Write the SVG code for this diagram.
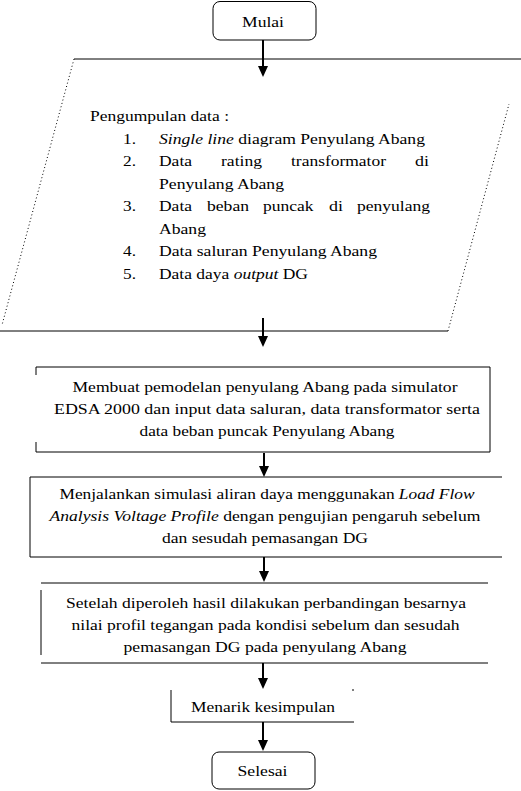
<svg xmlns="http://www.w3.org/2000/svg" width="521" height="791" viewBox="0 0 521 791">
<style>
  .t { font-family: "Liberation Serif", "Times New Roman", serif; font-size: 15.5px; fill: #000; }
  .c { text-anchor: middle; }
  .i { font-style: italic; }
  .ln { fill: none; stroke: #000; stroke-width: 1; }
  .dot { fill: none; stroke: #000; stroke-width: 1; stroke-dasharray: 1 2.5; }
  .ar { fill: none; stroke: #000; stroke-width: 2; marker-end: url(#ah); }
</style>
<defs>
  <marker id="ah" markerUnits="userSpaceOnUse" viewBox="0 0 11 10" markerWidth="11" markerHeight="10" refX="6" refY="5" orient="auto">
    <path d="M0,0 L11,5 L0,10 Z" fill="#000"/>
  </marker>
</defs>
<rect width="521" height="791" fill="#fff"/>

<g id="mulai">
  <rect class="ln" x="213" y="1.5" width="103" height="38.5" rx="7"/>
  <text class="t c" x="263" y="27" textLength="42" lengthAdjust="spacingAndGlyphs">Mulai</text>
</g>

<g id="pengumpulan-data">
  <path class="ln" d="M74,59 H521 M0,331 H448"/>
  <path class="dot" d="M74,59 L2,325 M448,331 L509,104"/>
  <text class="t" x="90" y="121" textLength="139" lengthAdjust="spacingAndGlyphs">Pengumpulan data :</text>
  <text class="t" x="123" y="143.5" textLength="13" lengthAdjust="spacingAndGlyphs">1.</text>
  <text class="t" x="159" y="143.5" textLength="266" lengthAdjust="spacingAndGlyphs"><tspan class="i">Single line</tspan> diagram Penyulang Abang</text>
  <text class="t" x="123" y="166" textLength="13" lengthAdjust="spacingAndGlyphs">2.</text>
  <text class="t" x="159" y="166" textLength="33" lengthAdjust="spacingAndGlyphs">Data</text>
  <text class="t" x="221" y="166" textLength="41" lengthAdjust="spacingAndGlyphs">rating</text>
  <text class="t" x="291" y="166" textLength="95" lengthAdjust="spacingAndGlyphs">transformator</text>
  <text class="t" x="415" y="166" textLength="14" lengthAdjust="spacingAndGlyphs">di</text>
  <text class="t" x="159" y="188.5" textLength="125" lengthAdjust="spacingAndGlyphs">Penyulang Abang</text>
  <text class="t" x="123" y="211" textLength="13" lengthAdjust="spacingAndGlyphs">3.</text>
  <text class="t" x="159" y="211" textLength="33" lengthAdjust="spacingAndGlyphs">Data</text>
  <text class="t" x="207" y="211" textLength="42" lengthAdjust="spacingAndGlyphs">beban</text>
  <text class="t" x="263" y="211" textLength="50.5" lengthAdjust="spacingAndGlyphs">puncak</text>
  <text class="t" x="329" y="211" textLength="14" lengthAdjust="spacingAndGlyphs">di</text>
  <text class="t" x="357" y="211" textLength="73" lengthAdjust="spacingAndGlyphs">penyulang</text>
  <text class="t" x="159" y="233.5" textLength="47" lengthAdjust="spacingAndGlyphs">Abang</text>
  <text class="t" x="123" y="256" textLength="13" lengthAdjust="spacingAndGlyphs">4.</text>
  <text class="t" x="159" y="256" textLength="218" lengthAdjust="spacingAndGlyphs">Data saluran Penyulang Abang</text>
  <text class="t" x="123" y="278.5" textLength="13" lengthAdjust="spacingAndGlyphs">5.</text>
  <text class="t" x="159" y="278.5" textLength="149" lengthAdjust="spacingAndGlyphs">Data daya <tspan class="i">output</tspan> DG</text>
</g>

<g id="pemodelan">
  <path class="ln" d="M36,367 H490 V452 H36 M36,367 V375 M36,442 V452"/>
  <text class="t c" x="265" y="392" textLength="385" lengthAdjust="spacingAndGlyphs">Membuat pemodelan penyulang Abang pada simulator</text>
  <text class="t c" x="267" y="414" textLength="426" lengthAdjust="spacingAndGlyphs">EDSA 2000 dan input data saluran, data transformator serta</text>
  <text class="t c" x="267" y="436" textLength="255" lengthAdjust="spacingAndGlyphs">data beban puncak Penyulang Abang</text>
</g>

<g id="simulasi">
  <path class="ln" d="M502,477 H30 V557 H502"/>
  <text class="t c" x="267" y="499" textLength="415" lengthAdjust="spacingAndGlyphs">Menjalankan simulasi aliran daya menggunakan <tspan class="i">Load Flow</tspan></text>
  <text class="t c" x="265" y="521" textLength="431" lengthAdjust="spacingAndGlyphs"><tspan class="i">Analysis Voltage Profile</tspan> dengan pengujian pengaruh sebelum</text>
  <text class="t c" x="265" y="543" textLength="206" lengthAdjust="spacingAndGlyphs">dan sesudah pemasangan DG</text>
</g>

<g id="perbandingan">
  <path class="ln" d="M41,583 H488 M41,663 H488 M41,590 V655"/>
  <text class="t c" x="266" y="608" textLength="400" lengthAdjust="spacingAndGlyphs">Setelah diperoleh hasil dilakukan perbandingan besarnya</text>
  <text class="t c" x="265.5" y="630" textLength="388" lengthAdjust="spacingAndGlyphs">nilai profil tegangan pada kondisi sebelum dan sesudah</text>
  <text class="t c" x="265" y="652" textLength="283" lengthAdjust="spacingAndGlyphs">pemasangan DG pada penyulang Abang</text>
</g>

<g id="kesimpulan">
  <path class="ln" d="M171,690 V722 H354 M352,690 H354"/>
  <text class="t c" x="263" y="712" textLength="144" lengthAdjust="spacingAndGlyphs">Menarik kesimpulan</text>
</g>

<g id="selesai">
  <rect class="ln" x="212" y="752" width="103" height="37" rx="7"/>
  <text class="t c" x="262.5" y="776" textLength="50" lengthAdjust="spacingAndGlyphs">Selesai</text>
</g>

<g id="connectors">
  <path class="ar" d="M263,40 V72"/>
  <path class="ar" d="M263,318 V342"/>
  <path class="ar" d="M264,453 V472"/>
  <path class="ar" d="M264,557 V577"/>
  <path class="ar" d="M263,663 V684"/>
  <path class="ar" d="M263,722 V746"/>
</g>
</svg>
